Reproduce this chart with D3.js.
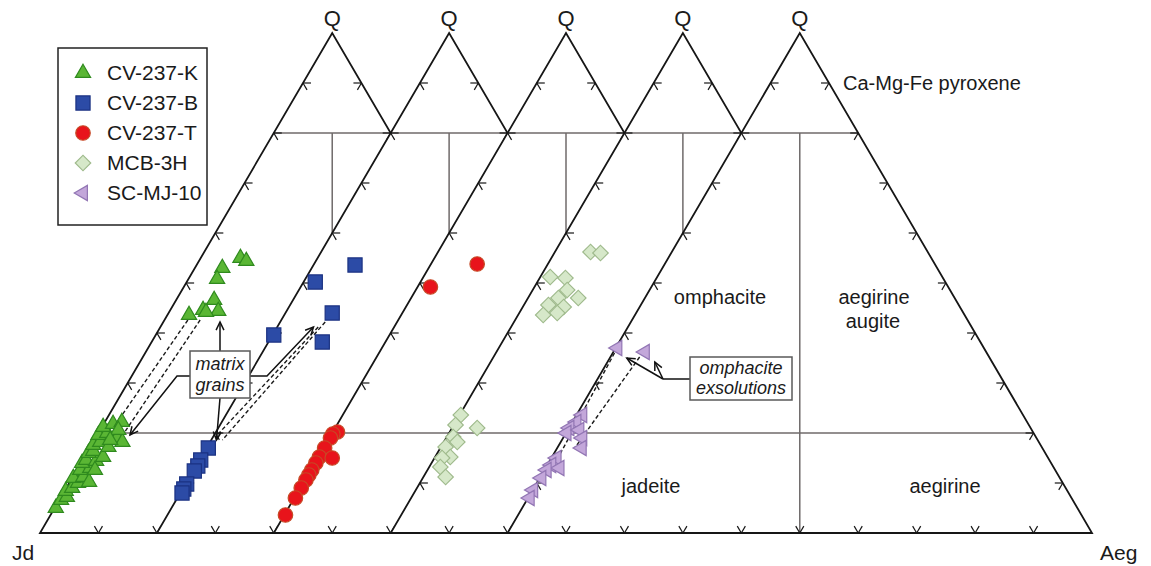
<!DOCTYPE html>
<html><head><meta charset="utf-8">
<script src="https://cdn.jsdelivr.net/npm/d3@7"></script>
<style>body{margin:0;background:#fff}svg{display:block}text{font-family:"Liberation Sans",Arial,sans-serif;fill:#1a1a1a}</style>
</head><body><svg id="c" width="1151" height="566"></svg>
<script>
// ---------- data ----------
const seriesNames = ["CV-237-K","CV-237-B","CV-237-T","MCB-3H","SC-MJ-10"];
const apexLabels = ["Q","Q","Q","Q","Q"];
const cornerLabels = ["Jd","Aeg"];
const tickValues = [10,20,30,40,50,60,70,80,90];
// points as [Q, Jd, Aeg] (%), each series plotted in its own shifted triangle
const cv237K = [
 [55.0,38.2,6.8],[54.4,37.5,8.1],[53.0,42.3,4.7],[50.8,44.3,4.9],[46.6,46.9,6.5],
 [44.6,49.8,5.6],[43.6,52.7,3.7],[44.4,47.3,8.3],[44.2,49.5,6.3],
 [5.0,94.8,0.2],[6.6,93.1,0.3],[7.2,91.8,1.0],[8.4,91.4,0.2],[9.0,90.0,1.0],
 [10.0,88.5,1.5],[11.0,88.8,0.2],[11.2,87.0,1.8],[10.2,86.5,3.3],[12.6,86.8,0.6],
 [13.0,84.9,2.1],[14.0,85.8,0.2],[14.6,84.8,0.6],[14.4,83.2,2.4],[16.0,83.7,0.3],
 [16.4,82.7,0.9],[15.2,81.6,3.2],[17.6,82.1,0.3],[18.2,80.6,1.2],[17.2,79.7,3.1],
 [19.6,80.2,0.2],[20.0,78.5,1.5],[19.0,77.3,3.7],[18.2,76.8,5.0],[21.2,78.6,0.2],
 [21.8,76.6,1.6],[22.2,74.9,2.9],[20.6,76.3,3.1],[18.6,78.7,2.7],[12.6,84.3,3.1]
];
const cv237B = [
 [53.6,39.3,7.1],[50.2,47.8,2.0],[44.0,48.0,8.0],[38.2,52.6,9.2],[39.6,60.2,0.2],
 [17.0,82.7,0.3],[14.6,85.2,0.2],[13.4,86.3,0.3],[12.4,87.4,0.2],[9.8,90.0,0.2],
 [8.8,91.0,0.2],[8.0,91.7,0.3]
];
const cv237T = [
 [49.2,48.6,2.2],[53.8,38.3,7.9],
 [20.2,79.0,0.8],[19.8,80.0,0.2],[19.0,80.8,0.2],[17.0,82.8,0.2],[15.2,84.6,0.2],
 [15.0,82.5,2.5],[14.0,85.8,0.2],[12.6,87.2,0.2],[11.6,88.2,0.2],[10.6,89.2,0.2],
 [9.0,90.8,0.2],[7.0,92.8,0.2],[3.6,96.2,0.2]
];
const mcb3H = [
 [56.2,37.7,6.1],[56.0,36.1,7.9],[51.2,47.1,1.7],[51.0,44.6,4.4],[48.6,45.5,5.9],
 [47.0,44.4,8.6],[47.0,47.8,5.2],[45.6,50.2,4.2],[45.2,47.8,7.0],[44.0,49.5,6.5],
 [43.6,52.1,4.3],
 [23.6,76.2,0.2],[21.6,78.1,0.3],[21.0,74.7,4.3],[19.2,79.7,1.1],[18.2,79.5,2.3],
 [17.2,82.0,0.8],[15.2,82.2,2.6],[15.0,83.7,1.3],[13.2,84.9,1.9],[11.2,85.0,3.8]
];
const scMJ10 = [
 [37.0,62.7,0.3],[36.2,58.4,5.4],
 [23.6,75.4,1.0],[22.2,77.1,0.7],[21.0,78.9,0.1],[20.0,79.9,0.1],[20.6,77.4,2.0],
 [19.0,77.7,3.3],[17.0,78.8,4.2],[15.0,84.1,0.9],[13.6,85.7,0.7],[13.0,84.6,2.4],
 [12.6,87.0,0.4],[11.0,88.7,0.3],[8.6,91.3,0.1],[7.0,92.7,0.3]
];
const fieldLabels = ["Ca-Mg-Fe pyroxene","omphacite","aegirine","augite","jadeite","aegirine"];
// dashed core-rim links [triangle, [Q,Aeg] from, [Q,Aeg] to]
const dashedLinks = [
 [0,[42.6,4.0],[21.0,2.0]],[0,[42.6,6.1],[20.2,4.4]],
 [1,[41.2,7.0],[19.2,0.4]],[1,[42.2,7.7],[18.6,1.9]],
 [4,[36.0,0.3],[15.6,1.1]],[4,[35.2,5.0],[17.0,3.0]]
];
// annotation arrow targets [triangle, Q, Aeg]
const matrixTargets = {up:[0,42.2,9.7], down:[1,18.6,0.9], left:[0,19.6,5.6], right:[1,41.2,6.2]};
const exsolTargets = [[4,35.0,2.9],[4,34.2,8.1]];

// ---------- setup ----------
const svg = d3.select("#c");
const x = d3.scaleLinear().domain([0,180]).range([40,1092]);
const y = d3.scaleLinear().domain([0,100]).range([533,33]);
const P = (k,q,a) => [x(20*k + a + q/2), y(q)];
const line = d3.line();
const nTri = 5;
const TL = 8;
function unit(a,b){const dx=b[0]-a[0],dy=b[1]-a[1],l=Math.hypot(dx,dy);return [dx/l,dy/l];}

const gT = svg.append("g");
for (let k=0;k<nTri;k++){
  const g = gT.append("g");
  const J=P(k,0,0), A=P(k,0,100), Q=P(k,100,0);
  const dL = unit(J,Q), dR = unit(Q,A);
  g.append("path").attr("d", line([J,A,Q])+"Z").attr("fill","#fff").attr("stroke","none");
  const inner = [[P(k,80,0),P(k,80,20)],[P(k,20,0),P(k,20,80)],[P(k,80,10),P(k,0,50)]];
  g.selectAll(null).data(inner).join("path").attr("d",d=>line(d))
    .attr("stroke","#6f6a6a").attr("stroke-width",1.5).attr("fill","none");
  g.append("path").attr("d", line([J,A,Q])+"Z").attr("fill","none")
    .attr("stroke","#161616").attr("stroke-width",1.8).attr("stroke-linejoin","miter");
  const ticks = [];
  tickValues.forEach(v=>{
    const b=P(k,0,v); ticks.push([b,[-dR[0],-dR[1]]],[b,dL]);
    const l=P(k,v,0); ticks.push([l,[1,0]],[l,dR]);
    const r=P(k,v,100-v); ticks.push([r,[-1,0]],[r,[-dL[0],-dL[1]]]);
  });
  g.selectAll(null).data(ticks).join("path")
    .attr("d",d=>line([d[0],[d[0][0]+d[1][0]*TL,d[0][1]+d[1][1]*TL]]))
    .attr("stroke","#161616").attr("stroke-width",1.2).attr("fill","none");
}

// ---------- labels ----------
svg.selectAll(".ql").data(apexLabels).join("text")
  .attr("x",(d,i)=>P(i,100,0)[0]).attr("y",y(100)-7).attr("text-anchor","middle")
  .attr("font-size",22).text(d=>d);
svg.append("text").attr("x",12).attr("y",560).attr("font-size",21).text(cornerLabels[0]);
svg.append("text").attr("x",1100).attr("y",560).attr("font-size",21).text(cornerLabels[1]);
const fl = [
  {t:fieldLabels[0], x:843, y:90, a:"start"},
  {t:fieldLabels[1], x:720, y:304, a:"middle"},
  {t:fieldLabels[2], x:874, y:304, a:"middle"},
  {t:fieldLabels[3], x:873, y:328, a:"middle"},
  {t:fieldLabels[4], x:651, y:493, a:"middle"},
  {t:fieldLabels[5], x:945, y:493, a:"middle"}
];
svg.selectAll(".fl").data(fl).join("text").attr("x",d=>d.x).attr("y",d=>d.y)
  .attr("text-anchor",d=>d.a).attr("font-size",20).text(d=>d.t);

// ---------- dashed links ----------
svg.selectAll(".dl").data(dashedLinks).join("path")
  .attr("d",d=>line([P(d[0],d[1][0],d[1][1]),P(d[0],d[2][0],d[2][1])]))
  .attr("stroke","#1a1a1a").attr("stroke-width",1.4).attr("stroke-dasharray","4,2.5").attr("fill","none");

// ---------- points ----------
const series = [
  {name:seriesNames[0], data:cv237K, k:0, type:d3.symbolTriangle, size:100, rot:0, fill:"#5ab634", stroke:"#2f8a1e"},
  {name:seriesNames[1], data:cv237B, k:1, type:d3.symbolSquare, size:200, rot:0, fill:"#2c4ba6", stroke:"#1b3282"},
  {name:seriesNames[2], data:cv237T, k:2, type:d3.symbolCircle, size:165, rot:0, fill:"#e8141b", stroke:"#c64a26"},
  {name:seriesNames[3], data:mcb3H, k:3, type:d3.symbolSquare, size:120, rot:45, fill:"#d6e8c9", stroke:"#9fba8c"},
  {name:seriesNames[4], data:scMJ10, k:4, type:d3.symbolTriangle, size:100, rot:-90, fill:"#c3a7da", stroke:"#9276b4"}
];
series.forEach(s=>{
  svg.append("g").selectAll("path").data(s.data).join("path")
    .attr("d", d3.symbol().type(s.type).size(s.size)())
    .attr("transform", d=>{const p=P(s.k,d[0],d[2]);return `translate(${p[0]},${p[1]}) rotate(${s.rot})`;})
    .attr("fill",s.fill).attr("stroke",s.stroke).attr("stroke-width",1.2);
});

// ---------- annotations ----------
function arrow(g, pts){
  g.append("path").attr("d",line(pts)).attr("stroke","#111").attr("stroke-width",1.5).attr("fill","none");
  const b=pts[pts.length-1], a=pts[pts.length-2];
  const ang=Math.atan2(b[1]-a[1],b[0]-a[0]), h=9, w=0.45;
  const p1=[b[0]-h*Math.cos(ang-w), b[1]-h*Math.sin(ang-w)];
  const p2=[b[0]-h*Math.cos(ang+w), b[1]-h*Math.sin(ang+w)];
  g.append("path").attr("d",line([p1,b,p2])).attr("stroke","#111").attr("stroke-width",1.5).attr("fill","none");
}
const ga = svg.append("g");
const mt = k=>P(matrixTargets[k][0],matrixTargets[k][1],matrixTargets[k][2]);
arrow(ga,[[220,351],mt("up")]);
arrow(ga,[[220,398],mt("down")]);
arrow(ga,[[190,376],[177,376],mt("left")]);
arrow(ga,[[250,376],[267,376],mt("right")]);
ga.append("rect").attr("x",190).attr("y",351).attr("width",60).attr("height",47)
  .attr("fill","#fff").attr("stroke","#5a5a5a").attr("stroke-width",1.5);
ga.append("text").attr("x",220).attr("y",370).attr("text-anchor","middle").attr("font-size",18).attr("font-style","italic").text("matrix");
ga.append("text").attr("x",220).attr("y",391).attr("text-anchor","middle").attr("font-size",18).attr("font-style","italic").text("grains");

ga.append("path").attr("d",line([[690,379],[663,379]])).attr("stroke","#111").attr("stroke-width",1.5);
exsolTargets.forEach(t=>arrow(ga,[[663,379],P(t[0],t[1],t[2])]));
ga.append("rect").attr("x",690).attr("y",357).attr("width",102).attr("height",43)
  .attr("fill","#fff").attr("stroke","#5a5a5a").attr("stroke-width",1.5);
ga.append("text").attr("x",741).attr("y",374).attr("text-anchor","middle").attr("font-size",18).attr("font-style","italic").text("omphacite");
ga.append("text").attr("x",741).attr("y",394).attr("text-anchor","middle").attr("font-size",18).attr("font-style","italic").text("exsolutions");

// ---------- legend ----------
const lg = svg.append("g");
lg.append("rect").attr("x",58).attr("y",48).attr("width",149).attr("height",177)
  .attr("fill","#fff").attr("stroke","#222").attr("stroke-width",1.5);
series.forEach((s,i)=>{
  const cy = 73 + i*30;
  lg.append("path").attr("d", d3.symbol().type(s.type).size(s.size)())
    .attr("transform",`translate(83,${cy}) rotate(${s.rot})`)
    .attr("fill",s.fill).attr("stroke",s.stroke).attr("stroke-width",1.2);
  lg.append("text").attr("x",107).attr("y",cy+7).attr("font-size",21).text(s.name);
});
</script></body></html>
